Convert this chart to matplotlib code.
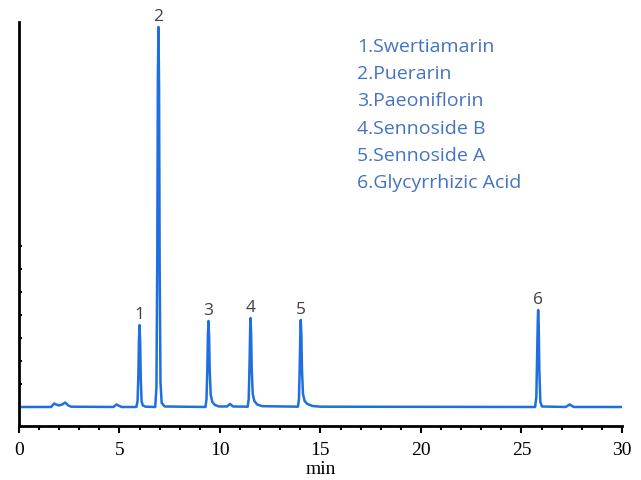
from matplotlib import pyplot as plt
from matplotlib.ticker import MultipleLocator, FixedLocator
import numpy as np

# chromatogram trace (min, signal)
time = [0.0, 1.6, 1.75, 1.85, 2.0, 2.15, 2.3, 2.45, 2.6, 4.7, 4.85, 4.95, 5.1,
        5.84, 5.9, 5.94, 5.97, 6.0, 6.03, 6.06, 6.1, 6.16, 6.3,
        6.78, 6.84, 6.88, 6.91, 6.94, 6.97, 7.0, 7.04, 7.1, 7.25,
        9.28, 9.33, 9.37, 9.40, 9.43, 9.46, 9.49, 9.54, 9.62, 9.75, 9.95,
        10.35, 10.5, 10.65,
        11.38, 11.43, 11.47, 11.50, 11.52, 11.55, 11.58, 11.63, 11.71, 11.85, 12.1,
        13.88, 13.93, 13.97, 14.00, 14.02, 14.05, 14.08, 14.13, 14.21, 14.35, 14.6, 15.0,
        25.68, 25.74, 25.78, 25.81, 25.83, 25.86, 25.89, 25.94, 26.02,
        27.2, 27.4, 27.6, 30.0]
signal = [0, 0, 3.5, 2.5, 1.5, 2.5, 4.5, 1.5, 0.3, 0, 2.5, 1.5, 0,
          0, 6, 32, 68, 82, 64, 28, 6, 1.5, 0.3,
          0, 20, 150, 330, 380, 320, 140, 25, 4, 0.5,
          0, 8, 38, 72, 86, 70, 36, 12, 5, 2, 0.5,
          0.5, 3, 0.5,
          0.3, 8, 42, 76, 89, 73, 38, 13, 6, 2.5, 0.8,
          0.3, 8, 42, 75, 87, 72, 37, 13, 6, 3, 1, 0.3,
          0, 10, 52, 85, 97, 80, 36, 5, 0.5,
          0, 2.5, 0, 0]

peak_labels = ["1", "2", "3", "4", "5", "6"]
peak_times = [6.0, 6.94, 9.43, 11.52, 14.02, 25.83]
peak_heights = [82, 380, 86, 89, 87, 97]

compounds = ["1.Swertiamarin", "2.Puerarin", "3.Paeoniflorin",
             "4.Sennoside B", "5.Sennoside A", "6.Glycyrrhizic Acid"]

fig = plt.figure(figsize=(6.41, 4.81), dpi=100)
ax = fig.add_axes([0.0296, 0.1123, 0.9407, 0.8399])

ax.plot(time, signal, color="#1f6fe0", lw=1.8)

for lab, t, h in zip(peak_labels, peak_times, peak_heights):
    ax.annotate(lab, (t, h), xytext=(0, 2), textcoords="offset points",
                ha="center", va="bottom", fontsize=12.5, color="#404040",
                family="Open Sans")

# compound list, one line every ~27 px
for i, name in enumerate(compounds):
    ax.text(0.561, 0.941 - i * 0.0676, name, transform=ax.transAxes,
            ha="left", va="center", fontsize=14, color="#4472c4",
            family="Open Sans")

ax.set_xlim(0, 30)
ax.set_ylim(-19, 385)
ax.xaxis.set_major_locator(MultipleLocator(5))
ax.xaxis.set_minor_locator(MultipleLocator(1))
ax.yaxis.set_major_locator(FixedLocator([]))
ax.yaxis.set_minor_locator(FixedLocator([0, 23, 46, 69, 92, 115, 138, 161]))
ax.tick_params(axis="x", which="major", direction="out", length=5, width=1.5,
               labelsize=14, pad=6)
ax.tick_params(axis="x", which="minor", direction="out", length=3, width=1.5)
ax.tick_params(axis="y", which="minor", direction="in", length=2, width=1.5)
for t in ax.get_xticklabels():
    t.set_family("Liberation Serif")
ax.set_xlabel("min", family="Liberation Serif", fontsize=14, labelpad=1)

for s in ["top", "right"]:
    ax.spines[s].set_visible(False)
for s in ["left", "bottom"]:
    ax.spines[s].set_linewidth(2)
    ax.spines[s].set_color("black")

fig.savefig("out.png", dpi=100)
